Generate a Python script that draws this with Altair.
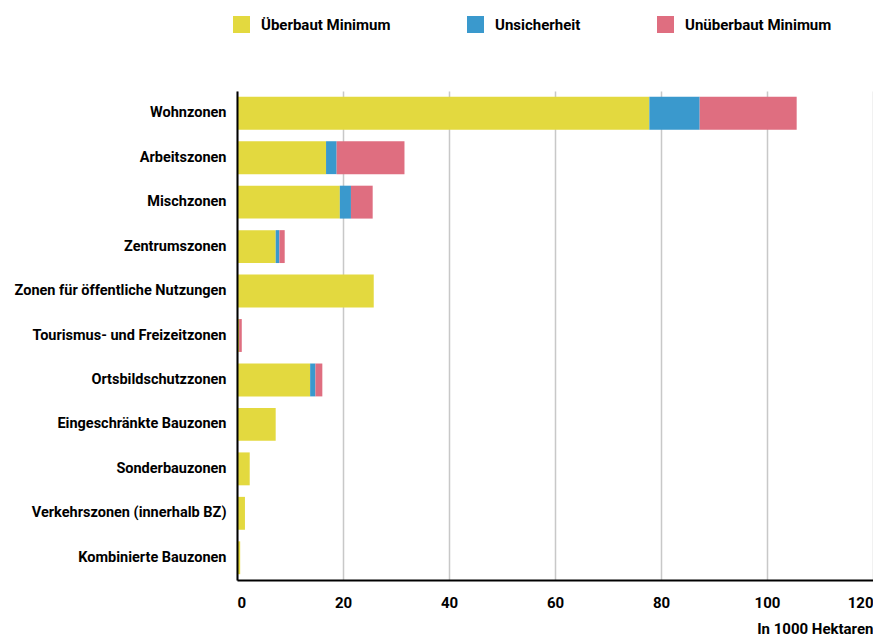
import altair as alt
import pandas as pd

categories = [
    "Wohnzonen", "Arbeitszonen", "Mischzonen", "Zentrumszonen",
    "Zonen für öffentliche Nutzungen", "Tourismus- und Freizeitzonen",
    "Ortsbildschutzzonen", "Eingeschränkte Bauzonen", "Sonderbauzonen",
    "Verkehrszonen (innerhalb BZ)", "Kombinierte Bauzonen",
]
ueberbaut = [77.8, 16.8, 19.4, 7.3, 25.8, 0.4, 13.8, 7.3, 2.4, 1.5, 0.6]
unsicherheit = [9.5, 2.0, 2.1, 0.7, 0.0, 0.0, 1.0, 0.0, 0.0, 0.0, 0.0]
unueberbaut = [18.3, 12.8, 4.1, 1.0, 0.0, 0.5, 1.3, 0.0, 0.0, 0.0, 0.0]
series = ["Überbaut Minimum", "Unsicherheit", "Unüberbaut Minimum"]
colors = ["#e3d93f", "#3a99cd", "#df6e80"]
x_ticks = [0, 20, 40, 60, 80, 100, 120]

rows = []
for i, c in enumerate(categories):
    for j, (s, vals) in enumerate(zip(series, [ueberbaut, unsicherheit, unueberbaut])):
        rows.append({"Zone": c, "Serie": s, "Wert": vals[i], "ord": j})
df = pd.DataFrame(rows)

FONT = "Roboto"

chart = alt.Chart(df).mark_bar().encode(
    y=alt.Y(
        "Zone:N", sort=categories,
        scale=alt.Scale(paddingInner=0.26, paddingOuter=0.13),
        axis=alt.Axis(
            title=None, domainColor="black", domainWidth=2, ticks=False,
            labelPadding=11, minExtent=229, maxExtent=229, labelLimit=400,
            labelFont=FONT, labelFontSize=14.5, labelFontWeight="bold",
            labelColor="black", zindex=1,
        ),
    ),
    x=alt.X(
        "Wert:Q", stack="zero",
        scale=alt.Scale(domain=[0, 120], nice=False),
        axis=alt.Axis(
            values=x_ticks, title="In 1000 Hektaren", titleAnchor="end",
            titleAlign="right", titleFont=FONT, titleFontSize=15,
            titleFontWeight="bold", titleColor="black", titlePadding=11,
            labelFont=FONT, labelFontSize=15, labelFontWeight="bold",
            labelColor="black", labelPadding=15, labelFlush=True,
            ticks=False, domainColor="black", domainWidth=2,
            gridColor="#c8c8c8", gridWidth=1.5,
        ),
    ),
    color=alt.Color(
        "Serie:N",
        scale=alt.Scale(domain=series, range=colors),
        legend=alt.Legend(
            title=None, orient="none", legendX=-4, legendY=-75,
            direction="horizontal", symbolType="square", symbolSize=289,
            symbolStrokeWidth=0, labelFont=FONT, labelFontSize=15,
            labelFontWeight="bold", labelColor="black", labelOffset=11,
            labelLimit=300, columnPadding=76,
        ),
    ),
    order=alt.Order("ord:Q"),
).properties(
    width=636, height=489,
    padding={"left": 0, "top": 8, "right": 0, "bottom": 0},
).configure_view(stroke=None)

chart.save("out.html", embed_options={"renderer": "svg", "actions": False})
